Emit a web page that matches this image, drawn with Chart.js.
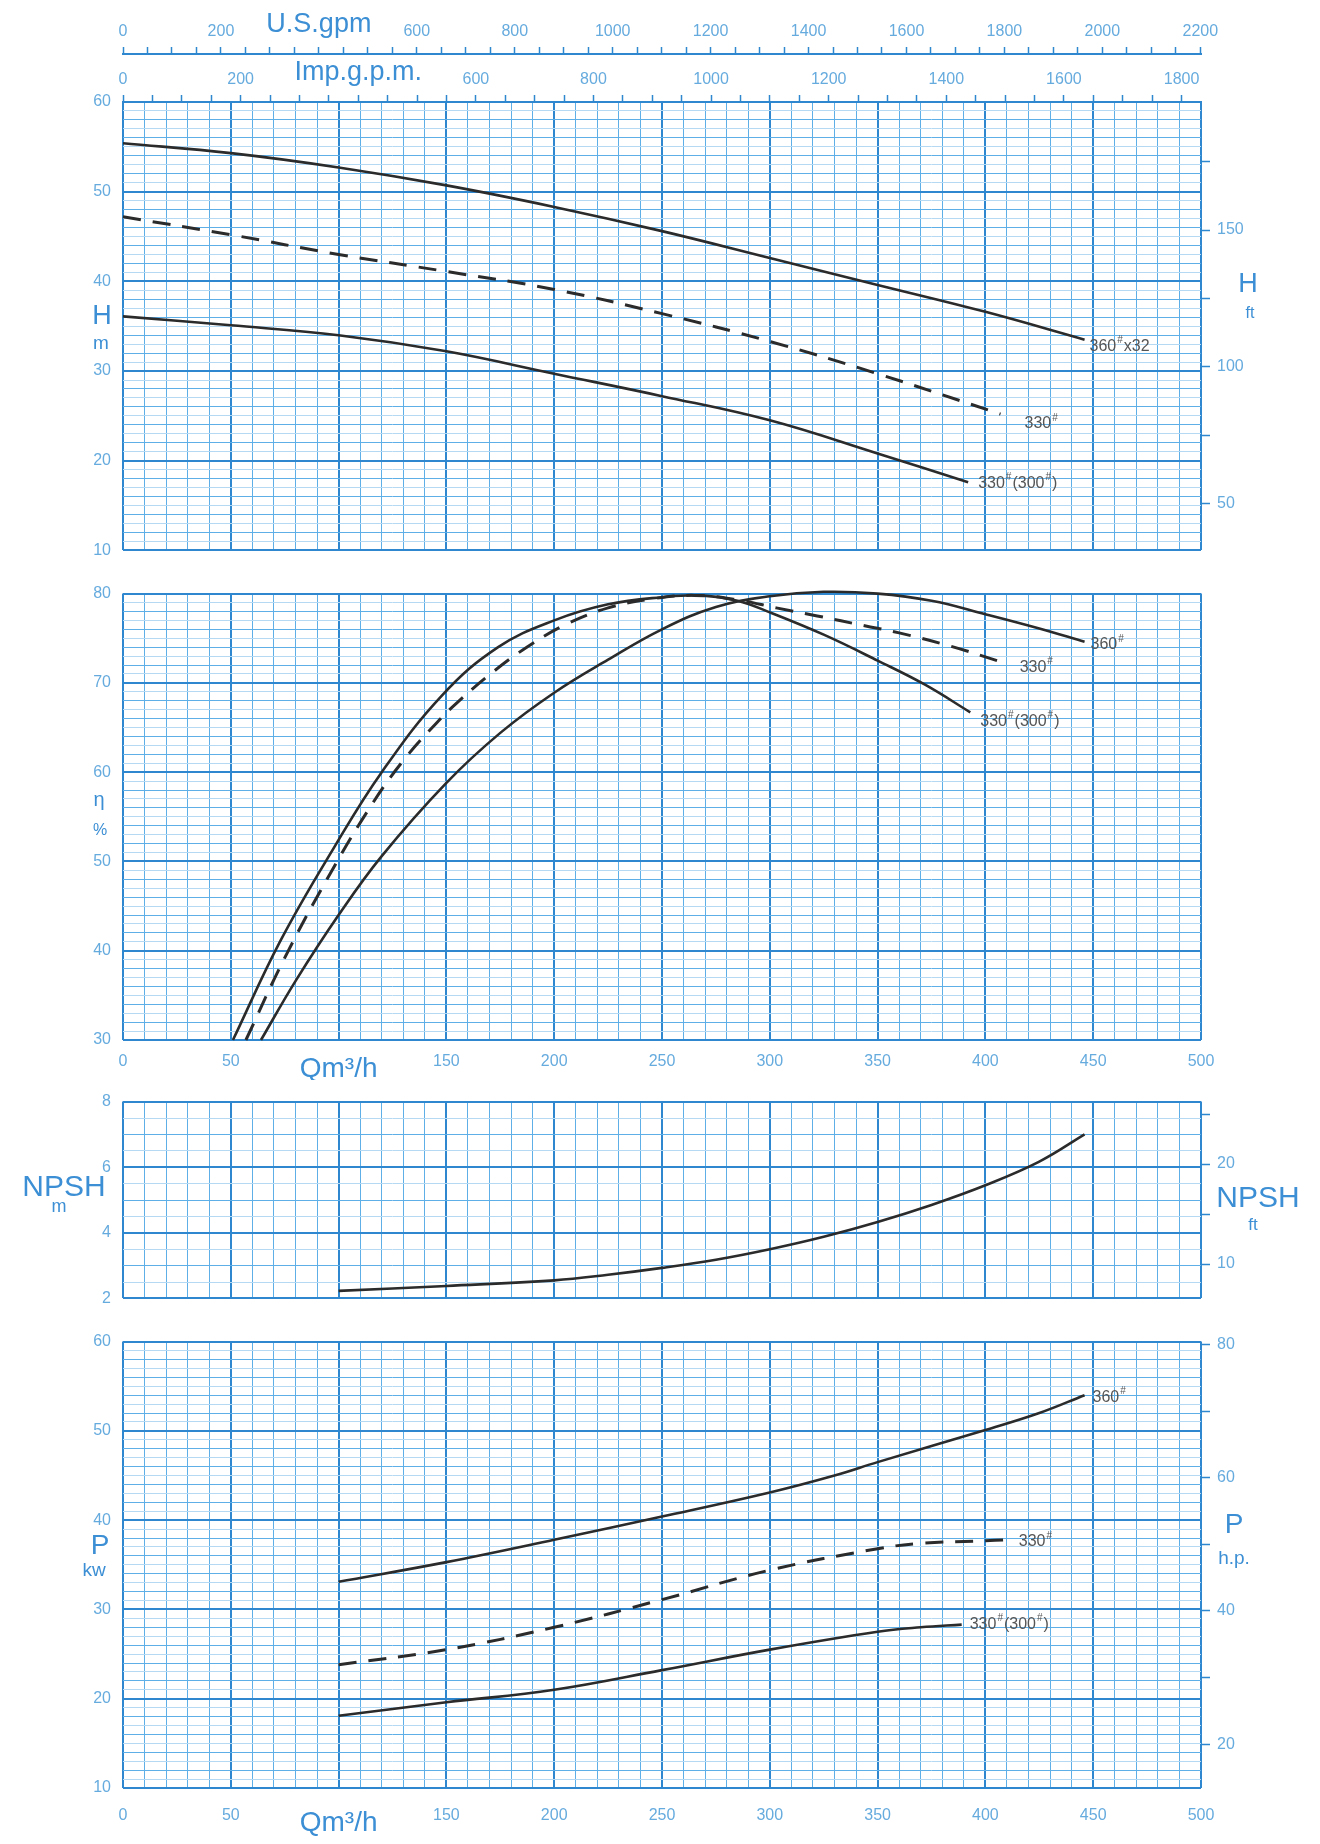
<!DOCTYPE html>
<html>
<head>
<meta charset="utf-8">
<title>Pump performance curves</title>
<script src="https://cdn.jsdelivr.net/npm/chart.js@4.4.1/dist/chart.umd.min.js"></script>
<style>
  body { margin: 0; background: #fff; width: 1320px; height: 1844px; position: relative; overflow: hidden; }
  canvas { position: absolute; left: 0; }
</style>
</head>
<body>
<canvas id="headChart" width="1320" height="572" style="top:0"></canvas>
<canvas id="effChart" width="1320" height="508" style="top:572px"></canvas>
<canvas id="npshChart" width="1320" height="240" style="top:1080px"></canvas>
<canvas id="powChart" width="1320" height="524" style="top:1320px"></canvas>
<script>
// --- valores (Q en m3/h) ---
const qHead360 = [0, 50, 100, 150, 200, 250, 300, 350, 400, 446];
const head360  = [55.4, 54.3, 52.7, 50.7, 48.3, 45.6, 42.6, 39.6, 36.6, 33.5];
const qHead330 = [0, 50, 100, 150, 200, 250, 300, 350, 407];
const head330  = [47.2, 45.2, 43.0, 41.1, 39.1, 36.4, 33.3, 29.7, 25.2];
const qHead300 = [0, 50, 100, 150, 200, 250, 300, 350, 392];
const head300  = [36.1, 35.1, 34.0, 32.2, 29.7, 27.2, 24.5, 20.8, 17.6];

const qEff360 = [64, 80, 100, 120, 150, 175, 200, 225, 250, 275, 300, 325, 350, 375, 400, 425, 446];
const eff360  = [30, 36.6, 44.0, 50.6, 58.8, 64.4, 68.9, 72.6, 76.0, 78.5, 79.7, 80.2, 80.0, 79.2, 77.7, 76.1, 74.6];
const qEff330 = [57, 75, 96, 116, 131, 145, 155, 172, 188, 205, 225, 245, 265, 285, 303, 322, 344, 360, 384, 408];
const eff330  = [30, 39.2, 48.6, 56.6, 61.6, 65.4, 67.8, 71.3, 74.1, 76.5, 78.4, 79.4, 79.8, 79.3, 78.4, 77.5, 76.4, 75.6, 74.1, 72.3];
const qEff300 = [51, 73, 98, 120, 148, 174, 200, 225, 250, 268, 285, 300, 325, 350, 372, 393];
const eff300  = [30, 41.1, 51.6, 60.0, 68.6, 74.0, 77.0, 78.8, 79.6, 79.8, 79.2, 77.9, 75.4, 72.5, 69.8, 66.7];

const qNpsh = [100, 150, 200, 225, 250, 275, 300, 325, 350, 375, 400, 425, 446];
const npsh  = [2.23, 2.38, 2.55, 2.72, 2.93, 3.18, 3.5, 3.88, 4.33, 4.85, 5.45, 6.17, 7.0];

const qPow360 = [100, 150, 200, 250, 300, 330, 350, 400, 425, 446];
const pow360  = [33.1, 35.3, 37.8, 40.4, 43.1, 45.0, 46.5, 50.1, 52.0, 54.0];
const qPow330 = [100, 150, 200, 250, 300, 350, 370, 400, 409];
const pow330  = [23.8, 25.5, 28.0, 31.1, 34.4, 36.8, 37.4, 37.7, 37.8];
const qPow300 = [100, 150, 200, 250, 300, 350, 370, 389];
const pow300  = [18.1, 19.6, 21.0, 23.2, 25.5, 27.5, 28.0, 28.3];

// etiquetas de los ejes
const qLabels     = [0, 50, 150, 200, 250, 300, 350, 400, 450, 500];
const usLabels    = [0, 200, 600, 800, 1000, 1200, 1400, 1600, 1800, 2000, 2200];
const impLabels   = [0, 200, 600, 800, 1000, 1200, 1400, 1600, 1800];
const headLabels  = [10, 20, 30, 40, 50, 60];
const headFtTicks = [50, 75, 100, 125, 150, 175];
const headFtLabels = [50, 100, 150];
const effLabels   = [30, 40, 50, 60, 70, 80];
const npshLabels  = [2, 4, 6, 8];
const npshFtTicks = [10, 15, 20, 25];
const npshFtLabels = [10, 20];
const powLabels   = [10, 20, 30, 40, 50, 60];
const powHpTicks  = [20, 30, 40, 50, 60, 70, 80];
const powHpLabels = [20, 40, 60, 80];

// conversiones de unidades
const US_GPM = 4.4029, IMP_GPM = 3.6662, FT = 3.2808, HP = 1.341;

const FONT = '"Liberation Sans", Arial, sans-serif';
const MAJOR = '#2f88cf', MINOR = '#5eaee8', FAINT = '#b5d9f3';
const NUM = '#66abde', TITLE = '#3c8fd4', CURVE = '#2b2b2b';
const LEFT_W = 123, RIGHT_W = 119;

Chart.defaults.font.family = FONT;
Chart.defaults.animation = false;

function steps(a, b, s) {
  const out = [];
  for (let v = a; v <= b + 1e-9; v += s) out.push(+v.toFixed(4));
  return out;
}
const isMult = (v, m) => Math.abs(v / m - Math.round(v / m)) < 1e-6;
const pts = (xs, ys) => xs.map((x, i) => ({ x, y: ys[i] }));

function gridStyle(major, mid) {
  return {
    drawTicks: false,
    color: c => !c.tick ? MAJOR : isMult(c.tick.value, major) ? MAJOR : isMult(c.tick.value, mid) ? MINOR : FAINT,
    lineWidth: c => !c.tick ? 1 : isMult(c.tick.value, major) ? 2 : 1
  };
}

// eje Q (m3/h)
function qAxis(showLabels, height, pad) {
  return {
    type: 'linear', min: 0, max: 500,
    afterBuildTicks: s => { s.ticks = steps(0, 500, 10).map(v => ({ value: v })); },
    afterFit: s => { s.height = height; },
    border: { display: false },
    grid: gridStyle(50, 10),
    ticks: {
      display: showLabels, autoSkip: false, maxRotation: 0, padding: pad, color: c => c.tick && c.tick.value === 100 ? TITLE : NUM,
      font: c => c.tick && c.tick.value === 100 ? { size: 28 } : { size: 16 },
      callback: v => v === 100 ? 'Qm³/h' : (qLabels.includes(v) ? String(v) : '')
    }
  };
}

function leftAxis(min, max, step, major, mid, labels) {
  return {
    type: 'linear', position: 'left', min, max,
    afterBuildTicks: s => { s.ticks = steps(min, max, step).map(v => ({ value: v })); },
    afterFit: s => { s.width = LEFT_W; },
    border: { display: false },
    grid: gridStyle(major, mid),
    ticks: { autoSkip: false, padding: 12, color: NUM, font: { size: 16 },
      callback: v => labels.includes(v) ? String(v) : '' }
  };
}

function rightAxis(min, max, ticks, labels) {
  return {
    type: 'linear', position: 'right', min, max,
    afterBuildTicks: s => { s.ticks = ticks.map(v => ({ value: v })); },
    afterFit: s => { s.width = RIGHT_W; },
    border: { display: false },
    grid: { drawOnChartArea: false, drawTicks: true, tickLength: 9, tickColor: MAJOR, tickWidth: 1.5 },
    ticks: { autoSkip: false, padding: 7, color: NUM, font: { size: 16 },
      callback: v => labels.includes(v) ? String(v) : '' }
  };
}

function topAxis(factor, labels, title, height, weight) {
  const max = 500 * factor;
  return {
    type: 'linear', position: 'top', min: 0, max, weight,
    afterBuildTicks: s => { s.ticks = steps(0, Math.floor(max / 50) * 50, 50).map(v => ({ value: v })); },
    afterFit: s => { s.height = height; },
    border: { display: true, color: MAJOR, width: 2 },
    grid: { drawOnChartArea: false, drawTicks: true, tickLength: 7, tickColor: MAJOR, tickWidth: 1.5 },
    ticks: { autoSkip: false, maxRotation: 0, padding: 6,
      color: c => c.tick && c.tick.value === 400 ? TITLE : NUM,
      font: c => c.tick && c.tick.value === 400 ? { size: 27 } : { size: 16 },
      callback: v => v === 400 ? title : (labels.includes(v) ? String(v) : '') }
  };
}

function curve(data, dashed, tag, dx, dy) {
  return {
    data, borderColor: CURVE, borderWidth: dashed ? 3 : 2.6, borderDash: dashed ? [18, 12] : [],
    pointRadius: 0, fill: false, tension: 0.4, clip: 6,
    tag, tagDx: dx, tagDy: dy
  };
}

// rótulos al final de cada curva
const endLabels = {
  id: 'endLabels',
  afterDatasetsDraw(chart) {
    const ctx = chart.ctx;
    chart.data.datasets.forEach((ds, i) => {
      if (!ds.tag) return;
      const meta = chart.getDatasetMeta(i);
      const last = meta.data[meta.data.length - 1];
      let x = last.x + ds.tagDx;
      const y = last.y + ds.tagDy;
      ctx.save();
      ctx.fillStyle = '#555';
      ctx.textBaseline = 'middle';
      ds.tag.split(/(#)/).forEach(part => {
        if (!part) return;
        if (part === '#') {
          ctx.font = '10px ' + FONT;
          ctx.fillText('#', x + 1, y - 6);
          x += ctx.measureText('#').width + 2;
        } else {
          ctx.font = '16px ' + FONT;
          ctx.fillText(part, x, y);
          x += ctx.measureText(part).width;
        }
      });
      ctx.restore();
    });
  }
};

// títulos de unidades junto a los ejes
const unitTitles = {
  id: 'unitTitles',
  afterDraw(chart, args, opts) {
    const { ctx, chartArea } = chart;
    (opts.items || []).forEach(t => {
      const y = chart.scales[t.scale].getPixelForValue(t.value);
      const x = (t.side === 'left' ? chartArea.left : chartArea.right) + t.dx;
      ctx.save();
      ctx.font = t.size + 'px ' + FONT;
      ctx.fillStyle = TITLE;
      ctx.textAlign = 'center';
      ctx.textBaseline = 'middle';
      ctx.fillText(t.text, x, y);
      ctx.restore();
    });
  }
};

function baseOptions(scales, padding, titles) {
  return {
    responsive: false,
    layout: { padding },
    scales,
    plugins: { legend: { display: false }, tooltip: { enabled: false }, unitTitles: { items: titles } }
  };
}

// H - Q
new Chart(document.getElementById('headChart'), {
  type: 'line',
  data: { datasets: [
    curve(pts(qHead360, head360), false, '360#x32', 5, 7),
    curve(pts(qHead330, head330), true, '330#', 24, 10),
    curve(pts(qHead300, head300), false, '330#(300#)', 10, 1)
  ] },
  options: baseOptions({
    x: qAxis(false, 16, 0),
    us: topAxis(US_GPM, usLabels, 'U.S.gpm', 54, 1),
    imp: topAxis(IMP_GPM, impLabels, 'Imp.g.p.m.', 48, 0),
    y: leftAxis(10, 60, 1, 10, 2, headLabels),
    yFt: rightAxis(10 * FT, 60 * FT, headFtTicks, headFtLabels)
  }, { top: 0, right: 0 }, [
    { scale: 'y', value: 36.1, side: 'left', dx: -21, text: 'H', size: 27 },
    { scale: 'y', value: 33.0, side: 'left', dx: -22, text: 'm', size: 19 },
    { scale: 'y', value: 39.6, side: 'right', dx: 47, text: 'H', size: 27 },
    { scale: 'y', value: 36.4, side: 'right', dx: 49, text: 'ft', size: 16 }
  ]),
  plugins: [endLabels, unitTitles]
});

// rendimiento - Q
new Chart(document.getElementById('effChart'), {
  type: 'line',
  data: { datasets: [
    curve(pts(qEff360, eff360), false, '360#', 6, 3),
    curve(pts(qEff330, eff330), true, '330#', 17, 5),
    curve(pts(qEff300, eff300), false, '330#(300#)', 10, 9)
  ] },
  options: baseOptions({
    x: qAxis(true, 40, 12),
    y: leftAxis(30, 80, 1, 10, 2, effLabels)
  }, { top: 16, right: RIGHT_W }, [
    { scale: 'y', value: 56.8, side: 'left', dx: -24, text: 'η', size: 20 },
    { scale: 'y', value: 53.5, side: 'left', dx: -23, text: '%', size: 16 }
  ]),
  plugins: [endLabels, unitTitles]
});

// NPSH - Q
new Chart(document.getElementById('npshChart'), {
  type: 'line',
  data: { datasets: [ curve(pts(qNpsh, npsh), false, null, 0, 0) ] },
  options: baseOptions({
    x: qAxis(false, 12, 0),
    y: leftAxis(2, 8, 0.5, 2, 1, npshLabels),
    yFt: rightAxis(2 * FT, 8 * FT, npshFtTicks, npshFtLabels)
  }, { top: 8, right: 0 }, [
    { scale: 'y', value: 5.36, side: 'left', dx: -59, text: 'NPSH', size: 30 },
    { scale: 'y', value: 4.8, side: 'left', dx: -64, text: 'm', size: 18 },
    { scale: 'y', value: 5.03, side: 'right', dx: 57, text: 'NPSH', size: 30 },
    { scale: 'y', value: 4.24, side: 'right', dx: 52, text: 'ft', size: 17 }
  ]),
  plugins: [endLabels, unitTitles]
});

// potencia - Q
new Chart(document.getElementById('powChart'), {
  type: 'line',
  data: { datasets: [
    curve(pts(qPow360, pow360), false, '360#', 8, 2),
    curve(pts(qPow330, pow330), true, '330#', 14, 2),
    curve(pts(qPow300, pow300), false, '330#(300#)', 8, 0)
  ] },
  options: baseOptions({
    x: qAxis(true, 56, 18),
    y: leftAxis(10, 60, 1, 10, 2, powLabels),
    yHp: rightAxis(10 * HP, 60 * HP, powHpTicks, powHpLabels)
  }, { top: 20, right: 0 }, [
    { scale: 'y', value: 37.1, side: 'left', dx: -23, text: 'P', size: 28 },
    { scale: 'y', value: 34.3, side: 'left', dx: -29, text: 'kw', size: 19 },
    { scale: 'y', value: 39.4, side: 'right', dx: 33, text: 'P', size: 28 },
    { scale: 'y', value: 35.7, side: 'right', dx: 33, text: 'h.p.', size: 19 }
  ]),
  plugins: [endLabels, unitTitles]
});
</script>
</body>
</html>
